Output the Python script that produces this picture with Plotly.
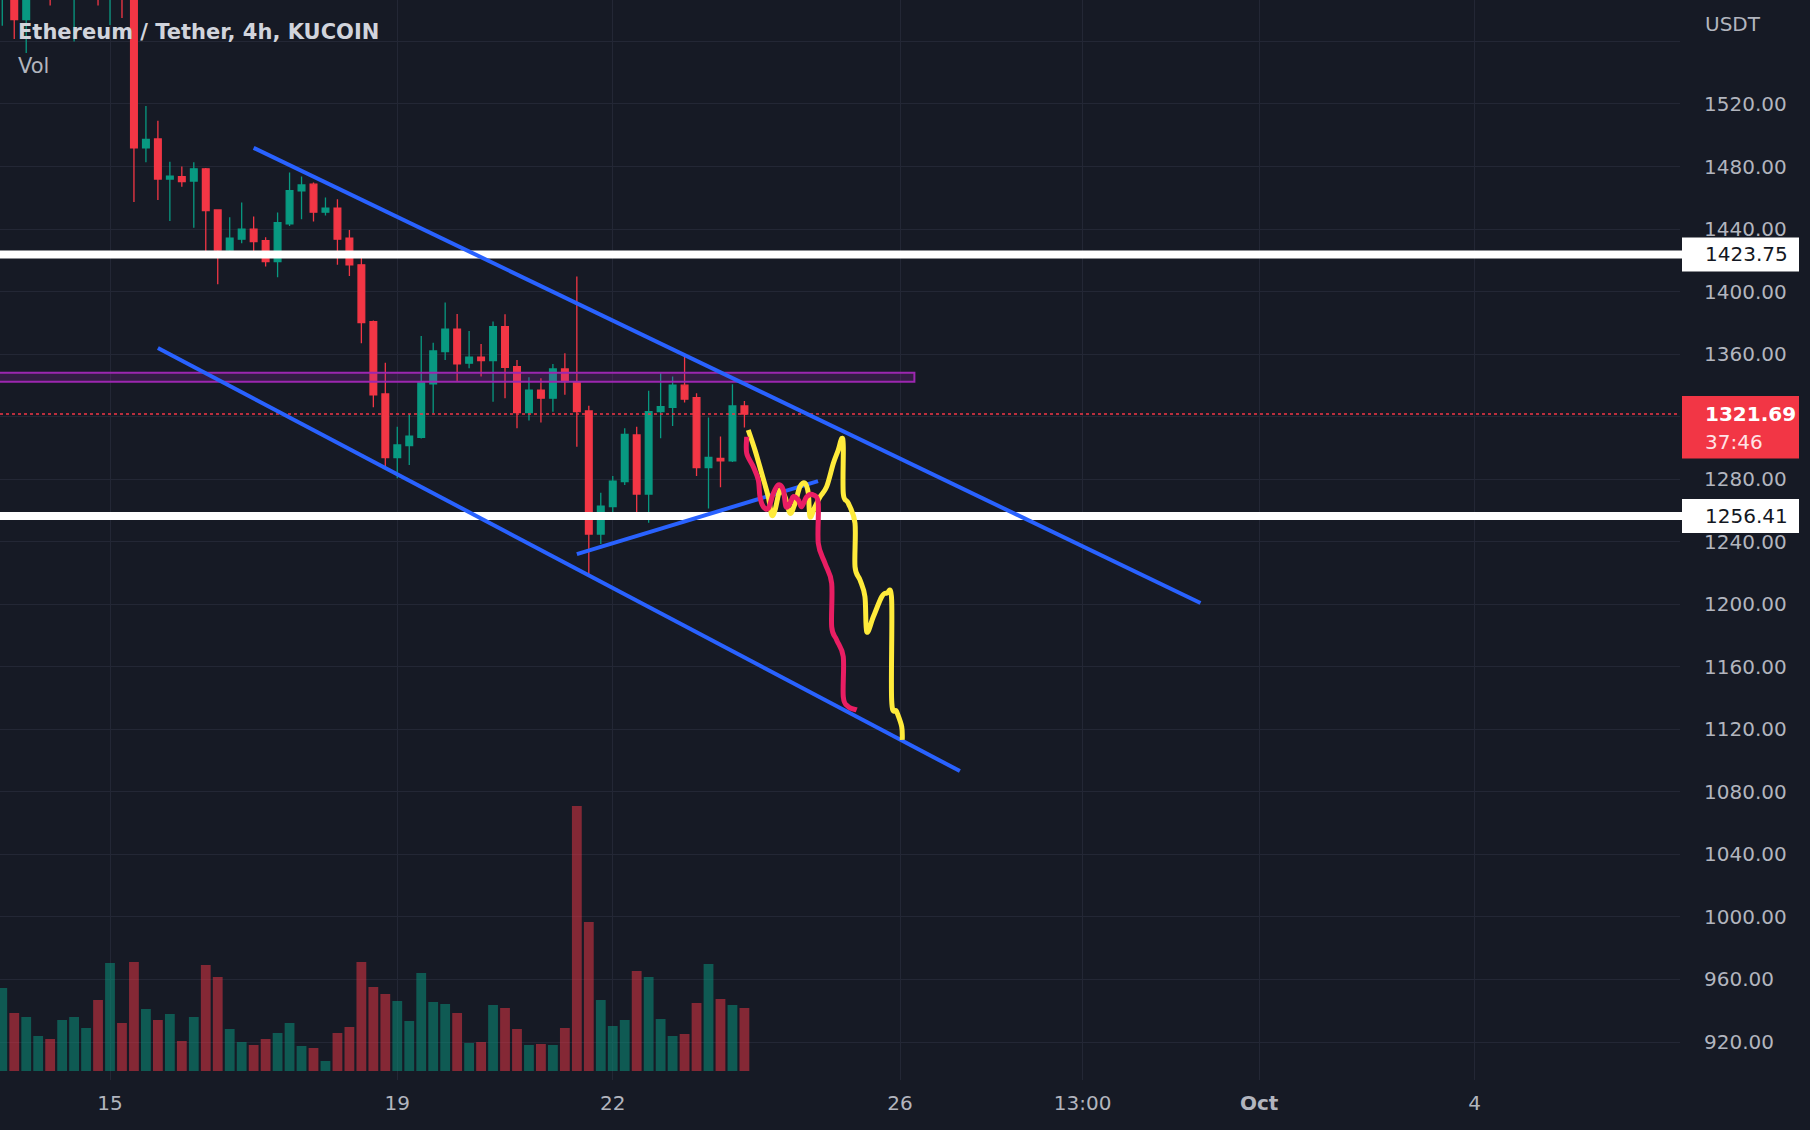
import plotly.graph_objects as go

# ---------------- data ----------------
# 4h bars, index 0 = Sep 15 00:00
bar_index = list(range(-9, 54))
opens = [1592, 1625, 1574, 1600, 1615, 1605, 1590, 1600, 1602, 1595, 1612, 1598,
         1492, 1497.6, 1472, 1473.5, 1470.7, 1478.5, 1452.2, 1426.6, 1433.5, 1439.9,
         1432.6, 1419.2, 1443.3, 1464.5, 1468.7, 1450.8, 1453.3, 1434.1, 1417.1, 1380.8,
         1334.5, 1293.8, 1301.5, 1306.8, 1340.9, 1361.6, 1375.9, 1354.2, 1358, 1355.8,
         1377.6, 1352, 1322.6, 1337, 1331.8, 1350.5, 1342.4, 1323.6, 1244.9, 1262.4,
         1278.5, 1308.3, 1270.5, 1323.2, 1326, 1340.1, 1332.2, 1287.4, 1293.3, 1291.8,
         1326.8]
highs = [1618, 1635, 1610, 1620, 1625, 1622, 1618, 1615, 1612, 1615, 1620, 1600,
         1518.7, 1509.3, 1483, 1480, 1482.7, 1479, 1452.6, 1447.5, 1456.9, 1448,
         1434.7, 1450.5, 1476.1, 1473.6, 1469.7, 1460.1, 1459, 1439.4, 1424.5, 1381.5,
         1354.5, 1313.6, 1321.5, 1371.6, 1367.3, 1393, 1385.7, 1374.8, 1366.5, 1380.8,
         1385.5, 1356.2, 1345.2, 1344.5, 1353.7, 1360.6, 1409.6, 1327, 1271.4, 1282,
         1312.6, 1313.6, 1336.6, 1348.2, 1345.6, 1359.4, 1335, 1319.4, 1307.3, 1340.7,
         1330]
lows = [1570, 1561.5, 1552.6, 1592, 1583, 1596, 1560, 1592, 1583, 1570.5, 1575, 1457.3,
        1482.7, 1458.6, 1445.2, 1467.1, 1440.9, 1422.8, 1404.7, 1423.4, 1430.9, 1424.5,
        1416, 1409.1, 1442, 1446.3, 1444.8, 1448.6, 1417.1, 1410, 1367, 1326,
        1288, 1280.6, 1289.1, 1306, 1322.2, 1356.2, 1342.4, 1350.9, 1345.6, 1329.6,
        1331.8, 1312.6, 1317.5, 1316.2, 1323.2, 1334, 1300.8, 1218.7, 1238.5, 1255,
        1276.3, 1256.4, 1252.2, 1306.2, 1314, 1329, 1282, 1261.3, 1274.9, 1291,
        1313]
closes = [1610, 1574, 1600, 1612, 1598, 1612, 1608, 1608, 1595, 1605, 1598, 1492,
          1497.4, 1472, 1473.8, 1470.3, 1478.5, 1451.8, 1426.6, 1434.1, 1439.9, 1432,
          1419.2, 1444.1, 1464.6, 1468.2, 1450.8, 1453.3, 1433.5, 1417.1, 1380.2, 1333.9,
          1293.8, 1301.9, 1307.6, 1342.4, 1362, 1375.9, 1353.7, 1358, 1355.8, 1377.6,
          1351.6, 1322.6, 1337, 1331.8, 1350.5, 1342.4, 1323.2, 1244.9, 1262.8, 1278.8,
          1308.7, 1270.5, 1323.2, 1326.4, 1340.1, 1331.2, 1287.4, 1294, 1291.8, 1326.8,
          1321.69]
volumes = [83, 58, 54, 35, 32, 51, 54, 43, 71, 108, 48, 109, 62, 51, 57, 30, 54, 106,
           94, 42, 29, 26, 32, 38, 48, 25, 23, 10, 38, 44, 109, 84, 77, 70, 50, 98,
           69, 67, 58, 28, 29, 66, 63, 42, 26, 27, 26, 43, 265, 149, 71, 45, 51, 100,
           94, 52, 35, 37, 68, 107, 72, 66, 63]

x_tick_vals = [0, 24, 42, 66, 81.25, 96, 114]
x_tick_text = ["15", "19", "22", "26", "13:00", "<b>Oct</b>", "4"]
price_tick_vals = [920, 960, 1000, 1040, 1080, 1120, 1160, 1200, 1240, 1280,
                   1320, 1360, 1400, 1440, 1480, 1520, 1560]
hidden_price_ticks = [1320, 1560]

title_text = "Ethereum / Tether, 4h, KUCOIN"
resistance_level = 1423.75
support_level = 1256.41
last_price = 1321.69
countdown = "37:46"
zone_low, zone_high, zone_end_bar = 1342.4, 1348.1, 67.2

# drawings (bar index, price)
upper_channel = [(12.0, 1491.9), (91.1, 1200.8)]
lower_channel = [(4.0, 1363.9), (71.0, 1093.3)]
triangle_base = [(39.0, 1232.1), (59.15, 1278.8)]
yellow_bars = [53.32, 53.88, 54.44, 54.99, 55.28, 55.56, 55.97, 56.39, 56.81, 57.23,
               57.64, 58.06, 58.34, 58.48, 58.90, 59.32, 59.87, 60.43, 60.84, 61.13,
               61.26, 61.26, 61.68, 62.24, 62.24, 62.66, 63.07, 63.22, 63.77, 64.47,
               64.89, 65.30, 65.30, 65.72, 66.14, 66.19]
yellow_prices = [1311.5, 1298.7, 1283.8, 1268.8, 1257.1, 1260.3, 1273.1, 1268.8, 1258.2,
                 1264.6, 1275.2, 1277.4, 1270.9, 1256.0, 1262.4, 1268.8, 1275.2, 1290.2,
                 1298.7, 1306.1, 1300.8, 1270.9, 1264.6, 1251.8, 1224.0, 1215.5, 1204.8,
                 1182.4, 1192.0, 1204.8, 1207.0, 1202.7, 1138.7, 1131.3, 1121.7, 1113.2]
red_bars = [53.19, 53.19, 53.74, 54.16, 54.30, 54.58, 55.00, 55.41, 55.83, 56.25, 56.47,
            56.81, 57.08, 57.50, 57.79, 58.20, 58.76, 59.17, 59.17, 59.73, 60.29, 60.29,
            60.71, 61.26, 61.26, 61.68, 62.38]
red_prices = [1307.2, 1296.6, 1288.0, 1279.5, 1268.8, 1262.4, 1261.4, 1270.9, 1276.3,
              1273.1, 1262.4, 1264.6, 1268.8, 1266.7, 1262.4, 1268.8, 1269.9, 1264.6,
              1239.0, 1226.2, 1213.4, 1185.6, 1177.1, 1166.4, 1140.9, 1134.5, 1132.4]

# ---------------- style ----------------
BG = "#161a25"
GRID = "#232735"
TXT = "#b2b5be"
UP = "#089981"
DN = "#f23645"
UP_VOL = "rgba(8,153,129,0.5)"
DN_VOL = "rgba(242,54,69,0.5)"
BLUE = "#2962ff"
FONT = "DejaVu Sans"

W, H = 1810, 1130
ML, MR, MT, MB = 0, 130, 0, 50
PLOT_W = W - ML - MR
PLOT_H = H - MT - MB
x_range = [-9.19, 131.16]
y_range = [895.7, 1586.5]
ppp = (y_range[1] - y_range[0]) / PLOT_H  # price per pixel
vol_range = [-9, PLOT_H - 9]

fig = go.Figure()

vol_colors = [UP_VOL if c >= o else DN_VOL for o, c in zip(opens, closes)]
fig.add_trace(go.Bar(x=bar_index, y=volumes, yaxis="y2", marker=dict(color=vol_colors, line=dict(width=0)),
                     width=0.82, hoverinfo="skip"))

fig.add_trace(go.Candlestick(
    x=bar_index, open=opens, high=highs, low=lows, close=closes,
    increasing=dict(line=dict(color=UP, width=1.3), fillcolor=UP),
    decreasing=dict(line=dict(color=DN, width=1.3), fillcolor=DN),
    whiskerwidth=0, hoverinfo="skip"))

shapes = []
# resistance / supply zone
shapes.append(dict(type="rect", xref="x", yref="y", x0=x_range[0] - 3, x1=zone_end_bar,
                   y0=zone_low, y1=zone_high, line=dict(color="#9c27b0", width=2),
                   fillcolor="rgba(156,39,176,0.22)", layer="above"))
# last price dotted line
shapes.append(dict(type="line", xref="paper", yref="y", x0=0, x1=1, y0=last_price, y1=last_price,
                   line=dict(color=DN, width=1.5, dash="dot"), layer="above"))
# horizontal levels
for lvl in (resistance_level, support_level):
    shapes.append(dict(type="line", xref="paper", yref="y", x0=0, x1=1.002, y0=lvl, y1=lvl,
                       line=dict(color="#ffffff", width=8), layer="above"))
# trend lines
for seg in (upper_channel, lower_channel, triangle_base):
    shapes.append(dict(type="line", xref="x", yref="y", x0=seg[0][0], y0=seg[0][1],
                       x1=seg[1][0], y1=seg[1][1], line=dict(color=BLUE, width=4), layer="above"))


def smooth_path(xs, ys):
    """Catmull-Rom spline through the points, written as cubic Bezier segments."""
    pts = list(zip(xs, ys))
    n = len(pts)
    d = f"M {pts[0][0]},{pts[0][1]}"
    for i in range(n - 1):
        p0 = pts[i - 1] if i > 0 else pts[i]
        p1 = pts[i]
        p2 = pts[i + 1]
        p3 = pts[i + 2] if i + 2 < n else pts[i + 1]
        c1 = (p1[0] + (p2[0] - p0[0]) / 6, p1[1] + (p2[1] - p0[1]) / 6)
        c2 = (p2[0] - (p3[0] - p1[0]) / 6, p2[1] - (p3[1] - p1[1]) / 6)
        d += f" C {c1[0]:.4f},{c1[1]:.3f} {c2[0]:.4f},{c2[1]:.3f} {p2[0]},{p2[1]}"
    return d


shapes.append(dict(type="path", xref="x", yref="y", path=smooth_path(yellow_bars, yellow_prices),
                   line=dict(color="#ffeb3b", width=5), layer="above"))
shapes.append(dict(type="path", xref="x", yref="y", path=smooth_path(red_bars, red_prices),
                   line=dict(color="#e91e63", width=5), layer="above"))

# price scale label boxes
bx0 = (PLOT_W + 2) / PLOT_W
bx1 = (PLOT_W + 119) / PLOT_W
for lvl in (resistance_level, support_level):
    shapes.append(dict(type="rect", xref="paper", yref="y", x0=bx0, x1=bx1,
                       y0=lvl - 17 * ppp, y1=lvl + 17 * ppp, line=dict(width=0),
                       fillcolor="#ffffff", layer="above"))
shapes.append(dict(type="rect", xref="paper", yref="y", x0=bx0, x1=bx1,
                   y0=last_price - 44.5 * ppp, y1=last_price + 18 * ppp, line=dict(width=0),
                   fillcolor=DN, layer="above"))

tx = (PLOT_W + 23) / PLOT_W
annotations = [
    dict(text=title_text, xref="paper", yref="paper", x=16 / PLOT_W, y=1 - 32 / PLOT_H,
         xanchor="left", yanchor="middle", showarrow=False,
         font=dict(family=FONT, size=21, color="#d1d4dc", weight="bold")),
    dict(text="Vol", xref="paper", yref="paper", x=16 / PLOT_W, y=1 - 66 / PLOT_H,
         xanchor="left", yanchor="middle", showarrow=False,
         font=dict(family=FONT, size=21, color=TXT)),
    dict(text="USDT", xref="paper", yref="paper", x=tx, y=1 - 24 / PLOT_H,
         xanchor="left", yanchor="middle", showarrow=False,
         font=dict(family=FONT, size=20, color=TXT)),
]
for lvl in (resistance_level, support_level):
    annotations.append(dict(text=f"{lvl:.2f}", xref="paper", yref="y", x=tx, y=lvl,
                            xanchor="left", yanchor="middle", showarrow=False,
                            font=dict(family=FONT, size=20, color="#131722")))
annotations.append(dict(text=f"<b>{last_price:.2f}</b>", xref="paper", yref="y", x=tx, y=last_price,
                        xanchor="left", yanchor="middle", showarrow=False,
                        font=dict(family=FONT, size=20, color="#ffffff")))
annotations.append(dict(text=countdown, xref="paper", yref="y", x=tx, y=last_price - 28 * ppp,
                        xanchor="left", yanchor="middle", showarrow=False,
                        font=dict(family=FONT, size=20, color="#ffe3e6")))

fig.update_layout(
    width=W, height=H, margin=dict(l=ML, r=MR, t=MT, b=MB, pad=0),
    paper_bgcolor=BG, plot_bgcolor=BG, showlegend=False, boxgap=0.2,
    shapes=shapes, annotations=annotations, hovermode=False,
    xaxis=dict(range=x_range, tickvals=x_tick_vals, ticktext=x_tick_text, showgrid=True,
               gridcolor=GRID, gridwidth=1, zeroline=False, showline=False, ticks="",
               tickfont=dict(family=FONT, size=20, color=TXT), ticklabelstandoff=9,
               rangeslider=dict(visible=False), fixedrange=True),
    yaxis=dict(range=y_range, side="right", tickvals=price_tick_vals,
               ticktext=["" if v in hidden_price_ticks else f"{v:.2f}" for v in price_tick_vals],
               showgrid=True, gridcolor=GRID, gridwidth=1, zeroline=False, showline=False,
               ticks="", tickfont=dict(family=FONT, size=20, color=TXT), ticklabelstandoff=23,
               fixedrange=True),
    yaxis2=dict(range=vol_range, overlaying="y", visible=False, fixedrange=True),
)

fig.write_html("out.html")
